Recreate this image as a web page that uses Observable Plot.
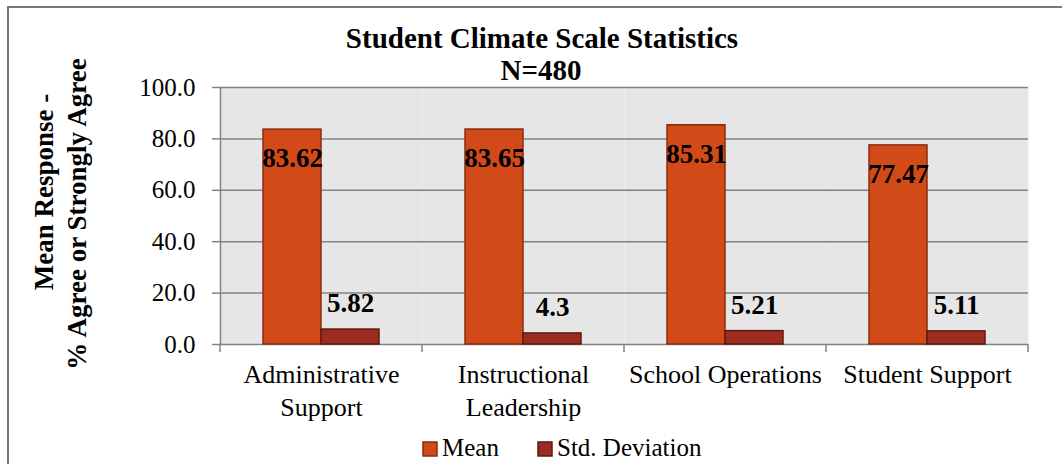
<!DOCTYPE html>
<html><head><meta charset="utf-8">
<script src="https://cdn.jsdelivr.net/npm/d3@7"></script>
<script src="https://cdn.jsdelivr.net/npm/@observablehq/plot@0.6"></script>
<style>
body{margin:0;background:#fff;}
#wrap{position:relative;width:1062px;height:464px;overflow:hidden;font-family:"Liberation Serif","Times New Roman",serif;}
#wrap svg{position:absolute;left:0;top:0;}
</style></head><body><div id="wrap"></div>
<script>
const categories = ["Administrative Support","Instructional Leadership","School Operations","Student Support"];
const categoryLabels = ["Administrative\nSupport","Instructional\nLeadership","School Operations","Student Support"];
const series = ["Mean","Std. Deviation"];
const meanValues = [83.62, 83.65, 85.31, 77.47];
const stdValues = [5.82, 4.3, 5.21, 5.11];
const yTicks = [0, 20, 40, 60, 80, 100];
const titleLines = ["Student Climate Scale Statistics", "N=480"];
const yLabelLines = ["Mean Response -", "% Agree or Strongly Agree"];
const fills = ["#d24a18", "#9c2b20"];
const strokes = ["#8a2c10", "#5c1a12"];

const rows = categories.flatMap((c, i) => [
  {category: c, series: series[0], value: meanValues[i]},
  {category: c, series: series[1], value: stdValues[i]}
]);
const means = rows.filter(d => d.series === series[0]);
const stds = rows.filter(d => d.series === series[1]);
const gridColor = "#828282";

const chart = Plot.plot({
  width: 1062, height: 464,
  marginLeft: 219, marginRight: 34, marginTop: 87, marginBottom: 120,
  style: {fontFamily: "'Liberation Serif', 'Times New Roman', serif", fontSize: "25px", color: "#000", background: "transparent", overflow: "visible"},
  fx: {domain: categories, padding: 0, axis: null},
  x: {domain: series, paddingInner: 0, paddingOuter: 0.74, axis: null},
  y: {domain: [0, 100], axis: null},
  marks: [
    Plot.frame({fill: "#e6e6e6", stroke: null}),
    Plot.gridY(yTicks, {stroke: gridColor, strokeOpacity: 1, strokeWidth: 1.5}),
    Plot.frame({anchor: "left", stroke: gridColor, strokeWidth: 1.5, facetAnchor: "left"}),
    Plot.axisY(yTicks, {label: null, tickFormat: d => d.toFixed(1), tickSize: 8, tickPadding: 17, stroke: gridColor, strokeWidth: 1.5, fontSize: 25}),
    Plot.barY(means, {fx: "category", x: "series", y: "value", fill: fills[0], stroke: strokes[0], strokeWidth: 1.5}),
    Plot.barY(stds, {fx: "category", x: "series", y: "value", fill: fills[1], stroke: strokes[1], strokeWidth: 1.5}),
    Plot.text(means, {fx: "category", x: "series", y: "value", text: d => String(d.value), dy: 29, fontWeight: "bold", fontSize: 27, fill: "#000"}),
    Plot.text(stds, {fx: "category", x: "series", y: "value", text: d => String(d.value), dy: -26, fontWeight: "bold", fontSize: 27, fill: "#000"}),
    Plot.text(categories, {fx: d => d, text: d => categoryLabels[categories.indexOf(d)], frameAnchor: "bottom", lineAnchor: "top", dy: 16, fontSize: 26, lineHeight: 1.24, fill: "#000"})
  ]
});

const wrap = document.getElementById("wrap");
wrap.appendChild(chart);

// boundary ticks under category axis, from the fx scale
const fx = chart.scale("fx");
const ys = chart.scale("y");
const y0 = ys.apply(0);
const bounds = categories.map(c => fx.apply(c)).concat([fx.apply(categories[categories.length - 1]) + fx.bandwidth]);
d3.select(chart).append("g").selectAll("line").data(bounds).join("line")
  .attr("x1", d => d).attr("x2", d => d)
  .attr("y1", y0).attr("y2", y0 + 8)
  .attr("stroke", gridColor).attr("stroke-width", 1.5);

// overlay: border, title, y label, legend
const ov = d3.select(wrap).append("svg")
  .attr("width", 1062).attr("height", 464)
  .style("font-family", "'Liberation Serif', 'Times New Roman', serif");
ov.append("rect").attr("x", 8).attr("y", 7).attr("width", 1080).attr("height", 480)
  .attr("fill", "none").attr("stroke", "#777").attr("stroke-width", 2);
ov.append("text").attr("x", 542).attr("y", 48).attr("text-anchor", "middle")
  .attr("font-size", 29).attr("font-weight", "bold").text(titleLines[0]);
ov.append("text").attr("x", 541).attr("y", 80).attr("text-anchor", "middle")
  .attr("font-size", 29).attr("font-weight", "bold").text(titleLines[1]);
ov.append("text").attr("transform", "translate(53,192) rotate(-90)").attr("text-anchor", "middle")
  .attr("font-size", 27).attr("font-weight", "bold").text(yLabelLines[0]);
ov.append("text").attr("transform", "translate(86,214) rotate(-90)").attr("text-anchor", "middle")
  .attr("font-size", 27).attr("font-weight", "bold").text(yLabelLines[1]);
const legendX = [423, 538];
series.forEach((s, i) => {
  ov.append("rect").attr("x", legendX[i]).attr("y", 442).attr("width", 14).attr("height", 14)
    .attr("fill", fills[i]).attr("stroke", strokes[i]).attr("stroke-width", 1.5);
  ov.append("text").attr("x", legendX[i] + 19).attr("y", 456).attr("font-size", 25).text(s);
});
</script></body></html>
